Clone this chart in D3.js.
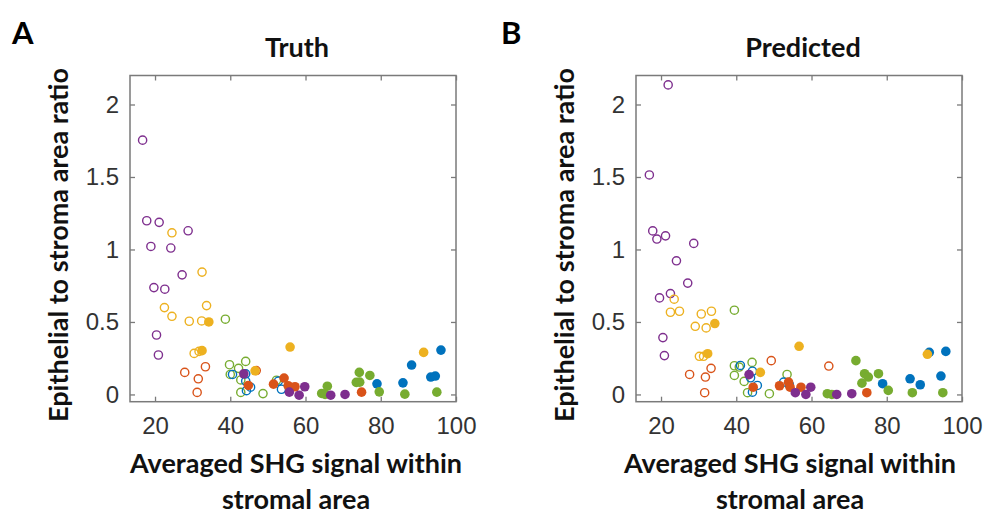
<!DOCTYPE html>
<html>
<head>
<meta charset="utf-8">
<script src="https://cdn.jsdelivr.net/npm/d3@7"></script>
<style>
  html, body { margin: 0; padding: 0; background: #fff; }
  svg { display: block; }
</style>
</head>
<body>
<svg id="chart" width="986" height="517"></svg>
<script>
// ---------------- data ----------------
const xTicks = [20, 40, 60, 80, 100];
const yTicks = [0, 0.5, 1, 1.5, 2];
const panelTitles = ["Truth", "Predicted"];
const panelLetters = ["A", "B"];
const xLabelLines = ["Averaged SHG signal within", "stromal area"];
const yLabel = "Epithelial to stroma area ratio";

// Panel A (Truth)
const truthPurpleOpen = [[16.7,1.754],[17.8,1.198],[21.1,1.187],[28.8,1.129],[18.9,1.021],[24.2,1.010],[27.2,0.825],[19.7,0.737],[22.6,0.726],[20.4,0.410],[20.9,0.272]];
const truthYellowOpen = [[24.5,1.115],[32.5,0.844],[22.5,0.599],[33.7,0.613],[24.5,0.539],[29.1,0.505],[32.4,0.507],[30.4,0.283],[31.7,0.297]];
const truthRedOpen = [[27.9,0.152],[33.4,0.191],[31.5,0.108],[31.2,0.014],[46.9,0.165]];
const truthGreenOpen = [[38.7,0.519],[39.8,0.205],[42.2,0.180],[44.1,0.228],[40.0,0.138],[42.8,0.100],[42.8,0.014],[48.7,0.006],[52.3,0.098]];
const truthBlueOpen = [[40.6,0.138],[44.1,0.142],[44.1,0.092],[45.4,0.050],[44.3,0.026],[52.8,0.092],[53.6,0.036]];
const truthBlueFilled = [[79.0,0.073],[85.9,0.080],[88.2,0.203],[93.3,0.120],[94.5,0.127],[96.0,0.306]];
const truthRedFilled = [[44.8,0.062],[51.5,0.071],[54.3,0.113],[55.4,0.060],[57.2,0.053],[74.9,0.016]];
const truthGreenFilled = [[64.3,0.007],[65.2,0.0],[65.8,0.057],[73.5,0.083],[74.4,0.085],[74.3,0.152],[77.1,0.131],[79.6,0.018],[86.4,0.002],[94.9,0.016]];
const truthPurpleFilled = [[43.6,0.142],[55.7,0.016],[58.3,-0.005],[59.8,0.053],[66.7,-0.005],[70.5,0.0]];
const truthYellowFilled = [[34.3,0.500],[32.5,0.302],[55.9,0.327],[46.6,0.163],[91.4,0.290]];

// Panel B (Predicted)
const predPurpleOpen = [[21.9,2.135],[16.9,1.514],[17.8,1.128],[18.9,1.072],[21.2,1.094],[28.7,1.042],[24.1,0.922],[27.1,0.768],[22.5,0.696],[19.6,0.666],[20.5,0.392],[20.9,0.268]];
const predYellowOpen = [[23.5,0.657],[22.5,0.567],[24.9,0.574],[30.7,0.555],[33.4,0.574],[29.1,0.470],[32.0,0.459],[30.2,0.263],[31.3,0.263]];
const predRedOpen = [[27.6,0.138],[33.3,0.180],[31.8,0.120],[31.6,0.012],[49.3,0.233],[64.6,0.196]];
const predGreenOpen = [[39.5,0.581],[39.5,0.198],[40.8,0.189],[44.2,0.221],[39.5,0.131],[42.1,0.090],[43.0,0.012],[48.8,0.005],[53.5,0.138]];
const predBlueOpen = [[41.1,0.200],[44.3,0.160],[43.8,0.115],[45.6,0.062],[44.3,0.016],[52.6,0.085],[54.1,0.067]];
const predBlueFilled = [[78.9,0.074],[86.2,0.108],[88.9,0.067],[91.3,0.290],[95.7,0.297],[94.4,0.127]];
const predRedFilled = [[44.5,0.050],[51.5,0.060],[53.9,0.085],[54.3,0.050],[57.2,0.050],[74.7,0.012]];
const predGreenFilled = [[64.2,0.005],[65.4,0.0],[71.8,0.233],[74.1,0.143],[75.1,0.120],[73.4,0.078],[77.8,0.143],[80.4,0.028],[86.8,0.012],[94.9,0.012]];
const predPurpleFilled = [[43.4,0.137],[55.7,0.012],[58.5,0.0],[59.8,0.050],[66.7,0.0],[70.7,0.005]];
const predYellowFilled = [[34.3,0.489],[32.4,0.281],[56.7,0.332],[46.4,0.152],[90.8,0.277]];

const colors = { purple: "#7E2F8E", yellow: "#EDB120", red: "#D95319", green: "#77AC30", blue: "#0072BD" };

const panels = [
  { left: 130, letterX: 12, xLabelX: 296, groups: [
    [truthPurpleOpen, "purple", false], [truthYellowOpen, "yellow", false], [truthRedOpen, "red", false],
    [truthGreenOpen, "green", false], [truthBlueOpen, "blue", false],
    [truthBlueFilled, "blue", true], [truthRedFilled, "red", true], [truthGreenFilled, "green", true],
    [truthPurpleFilled, "purple", true], [truthYellowFilled, "yellow", true] ] },
  { left: 636, letterX: 501, xLabelX: 790, groups: [
    [predPurpleOpen, "purple", false], [predYellowOpen, "yellow", false], [predRedOpen, "red", false],
    [predGreenOpen, "green", false], [predBlueOpen, "blue", false],
    [predBlueFilled, "blue", true], [predRedFilled, "red", true], [predGreenFilled, "green", true],
    [predPurpleFilled, "purple", true], [predYellowFilled, "yellow", true] ] }
];

// ---------------- drawing ----------------
const svg = d3.select("#chart");
svg.append("rect").attr("width", 986).attr("height", 517).attr("fill", "#fff");

const plotW = 326, plotTop = 75.5, plotH = 326.2;
const axisColor = "#7a7a7a";
const tickFont = "'Liberation Sans', Arial, sans-serif";
const labelFont = "Lato, 'Open Sans', sans-serif";
const labelSize = 27;

panels.forEach((p, i) => {
  const g = svg.append("g").attr("transform", `translate(${p.left},${plotTop})`);
  const x = d3.scaleLinear().domain([13.35, 100]).range([0, plotW]);
  const y = d3.scaleLinear().domain([-0.05, 2.2]).range([plotH, 0]);

  const fmt = d => d3.format("~g")(d);
  const tl = 5;
  const axB = g.append("g").attr("transform", `translate(0,${plotH})`)
    .call(d3.axisBottom(x).tickValues(xTicks).tickSize(-tl).tickPadding(15).tickFormat(fmt));
  const axT = g.append("g").call(d3.axisTop(x).tickValues(xTicks).tickSize(-tl).tickFormat(""));
  const axL = g.append("g").call(d3.axisLeft(y).tickValues(yTicks).tickSize(-tl).tickPadding(11).tickFormat(fmt));
  const axR = g.append("g").attr("transform", `translate(${plotW},0)`)
    .call(d3.axisRight(y).tickValues(yTicks).tickSize(-tl).tickFormat(""));
  [axB, axT, axL, axR].forEach(a => {
    a.select(".domain").remove();
    a.selectAll(".tick line").attr("stroke", axisColor).attr("stroke-width", 1.3);
    a.selectAll(".tick text").attr("fill", "#333").attr("font-family", tickFont).attr("font-size", 24);
  });
  axB.selectAll(".tick text").attr("dy", "0.71em");

  g.append("rect").attr("x", 0).attr("y", 0).attr("width", plotW).attr("height", plotH)
    .attr("fill", "none").attr("stroke", axisColor).attr("stroke-width", 1.5);

  p.groups.forEach(([data, c, filled]) => {
    g.append("g").selectAll("circle").data(data).join("circle")
      .attr("cx", d => x(d[0])).attr("cy", d => y(d[1]))
      .attr("r", filled ? 4.8 : 4.1)
      .attr("fill", filled ? colors[c] : "none")
      .attr("stroke", colors[c])
      .attr("stroke-width", filled ? 0 : 1.4);
  });

  // title
  svg.append("text").attr("x", p.left + plotW / 2 + 4).attr("y", 57)
    .attr("text-anchor", "middle").attr("font-family", labelFont).attr("font-weight", "bold")
    .attr("font-size", labelSize).attr("fill", "#111").text(panelTitles[i]);
  // letter
  svg.append("text").attr("x", p.letterX).attr("y", 44)
    .attr("font-family", labelFont).attr("font-weight", "bold")
    .attr("font-size", 31).attr("fill", "#000").text(panelLetters[i]);
  // y label
  svg.append("text").attr("transform", `translate(${p.left - 62},245) rotate(-90)`)
    .attr("text-anchor", "middle").attr("font-family", labelFont).attr("font-weight", "bold")
    .attr("font-size", labelSize).attr("fill", "#111").text(yLabel);
  // x label
  xLabelLines.forEach((t, k) => {
    svg.append("text").attr("x", p.xLabelX).attr("y", 473 + k * 36)
      .attr("text-anchor", "middle").attr("font-family", labelFont).attr("font-weight", "bold")
      .attr("font-size", labelSize).attr("fill", "#111").text(t);
  });
});
</script>
</body>
</html>
